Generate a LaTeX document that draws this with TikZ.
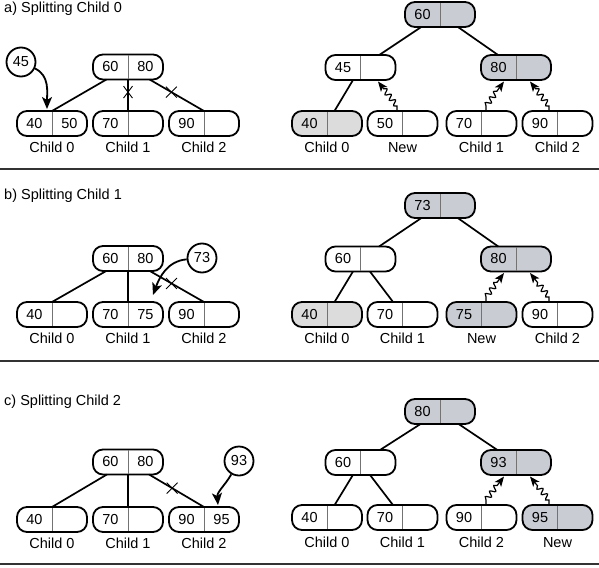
\documentclass[tikz,border=0pt]{standalone}
\usepackage{fontspec}
\setmainfont{Liberation Sans}
\usetikzlibrary{shapes,arrows.meta,calc,decorations.pathmorphing}
\definecolor{rootgrey}{HTML}{C9CCD3}
\definecolor{leafgrey}{HTML}{DCDCDC}
\newcommand{\keyfont}{\fontsize{14.5}{16}\selectfont}
\tikzstyle{keybox} = [rectangle, draw, line width=1.8pt, rounded corners=10pt,
    minimum width=70pt, minimum height=25pt, inner sep=0pt, outer sep=0pt]
\tikzstyle{divider} = [draw=black!55, line width=0.9pt]
\tikzstyle{keytext} = [font=\keyfont, inner sep=0pt]
\tikzstyle{newkey} = [circle, draw, line width=1.8pt, minimum size=29pt, inner sep=0pt, font=\keyfont]
\tikzstyle{caption} = [font=\keyfont]
\tikzstyle{title} = [font=\keyfont, anchor=base west, inner sep=0pt]
\tikzstyle{line} = [draw, line width=1.7pt]
\tikzstyle{thinline} = [draw, line width=1.1pt]
\tikzstyle{insert} = [draw, line width=1.8pt, -{Stealth[length=12pt, width=10pt, inset=3pt]}]
\tikzstyle{promote} = [draw, line width=1.2pt, -{Stealth[length=10pt, width=8pt, inset=2.5pt]}]
\tikzstyle{wiggle} = [decoration={snake, amplitude=2.6pt, segment length=7pt, post length=9pt}]
\tikzstyle{xmark} = [draw, cross out, line width=0.9pt, inner sep=0pt, minimum width=8pt, minimum height=11pt]
\tikzstyle{separator} = [draw=black!80, line width=1.6pt]

% key node: name, position, fill, left key, right key
\newcommand{\keynode}[5]{%
  \node [keybox, fill=#3] (#1) at (#2) {};
  \draw [divider, shorten <=0.9pt, shorten >=0.9pt] (#1.north) -- (#1.south);
  \node [keytext] (#1l) at ($(#1.center)+(-17.5,0)$) {#4};
  \node [keytext] (#1r) at ($(#1.center)+(17.5,0)$) {#5};
}

\begin{document}
\begin{tikzpicture}[x=1pt, y=1pt]
\useasboundingbox (0,0) rectangle (599,-567);

%% a) Splitting Child 0
\node [title] (titleA) at (4,-12.5) {a) Splitting Child 0};
\keynode{rootA}{128,-67}{white}{60}{80}
\keynode{childA0}{52,-123.5}{white}{40}{50}
\keynode{childA1}{128,-123.5}{white}{70}{}
\keynode{childA2}{204,-123.5}{white}{90}{}
\node [caption, below of=childA0, node distance=24pt] (capA0) {Child 0};
\node [caption, below of=childA1, node distance=24pt] (capA1) {Child 1};
\node [caption, below of=childA2, node distance=24pt] (capA2) {Child 2};
\node [newkey] (newKeyA) at (21,-62) {45};

\path [line] (rootA) -- (childA0.north);
\path [thinline] (rootA.south) -- node [xmark, pos=0.4] {} (childA1.north);
\path [line] (rootA) -- node [xmark, pos=0.4, minimum width=10pt, minimum height=10pt] {} (childA2.north);
\draw [insert] (newKeyA) to[out=-25, in=90] ($(childA0.north)+(-5,2)$);

\keynode{rootRA}{440,-14.5}{rootgrey}{60}{}
\keynode{midRA45}{360.5,-67.5}{white}{45}{}
\keynode{midRA80}{516,-67.5}{rootgrey}{80}{}
\keynode{leafRA40}{327,-123.5}{leafgrey}{40}{}
\keynode{leafRA50}{402.5,-123.5}{white}{50}{}
\keynode{leafRA70}{481.5,-123.5}{white}{70}{}
\keynode{leafRA90}{557.5,-123.5}{white}{90}{}
\node [caption, below of=leafRA40, node distance=24pt] (capRA40) {Child 0};
\node [caption, below of=leafRA50, node distance=24pt] (capRA50) {New};
\node [caption, below of=leafRA70, node distance=24pt] (capRA70) {Child 1};
\node [caption, below of=leafRA90, node distance=24pt] (capRA90) {Child 2};

\path [line] (rootRA) -- (midRA45);
\path [line] (rootRA) -- (midRA80);
\path [line] (midRA45) -- (leafRA40);
\draw [promote] ($(leafRA50.north)+(-5.5,0)$) -- ++(0,5) decorate[wiggle] {-- ($(midRA45.south)+(17.5,-1.5)$)};
\draw [promote] ($(leafRA70.north)+(4.5,0)$) -- ++(0,5) decorate[wiggle] {-- ($(midRA80.south)+(-12,-1.5)$)};
\draw [promote] ($(leafRA90.north)+(-8.5,0)$) -- ++(0,5) decorate[wiggle] {-- ($(midRA80.south)+(14,-1.5)$)};

\draw [separator] (0,-169) -- (599,-169);

%% b) Splitting Child 1
\node [title] (titleB) at (4,-199) {b) Splitting Child 1};
\keynode{rootB}{128,-258.5}{white}{60}{80}
\keynode{childB0}{52,-314.5}{white}{40}{}
\keynode{childB1}{128,-314.5}{white}{70}{75}
\keynode{childB2}{204,-314.5}{white}{90}{}
\node [caption, below of=childB0, node distance=24pt] (capB0) {Child 0};
\node [caption, below of=childB1, node distance=24pt] (capB1) {Child 1};
\node [caption, below of=childB2, node distance=24pt] (capB2) {Child 2};
\node [newkey] (newKeyB) at (202,-258) {73};

\path [line] (rootB) -- (childB0.north);
\path [thinline] (rootB.south) -- (childB1.north);
\path [line] (rootB) -- node [xmark, pos=0.4, minimum width=10pt, minimum height=10pt] {} (childB2.north);
\draw [insert] (newKeyB) to[out=185, in=70] ($(childB1.north)+(25,7)$);

\keynode{rootRB}{440,-205.5}{rootgrey}{73}{}
\keynode{midRB60}{360.5,-259}{white}{60}{}
\keynode{midRB80}{516,-259}{rootgrey}{80}{}
\keynode{leafRB40}{327,-314.5}{leafgrey}{40}{}
\keynode{leafRB70}{402.5,-314.5}{white}{70}{}
\keynode{leafRB75}{481.5,-314.5}{rootgrey}{75}{}
\keynode{leafRB90}{557.5,-314.5}{white}{90}{}
\node [caption, below of=leafRB40, node distance=24pt] (capRB40) {Child 0};
\node [caption, below of=leafRB70, node distance=24pt] (capRB70) {Child 1};
\node [caption, below of=leafRB75, node distance=24pt] (capRB75) {New};
\node [caption, below of=leafRB90, node distance=24pt] (capRB90) {Child 2};

\path [line] (rootRB) -- (midRB60);
\path [line] (rootRB) -- (midRB80);
\path [line] (midRB60) -- (leafRB40);
\path [line] (midRB60) -- (leafRB70);
\draw [promote] ($(leafRB75.north)+(4.5,0)$) -- ++(0,5) decorate[wiggle] {-- ($(midRB80.south)+(-12,-1.5)$)};
\draw [promote] ($(leafRB90.north)+(-8.5,0)$) -- ++(0,5) decorate[wiggle] {-- ($(midRB80.south)+(14,-1.5)$)};

\draw [separator] (0,-361) -- (599,-361);

%% c) Splitting Child 2
\node [title] (titleC) at (4,-405) {c) Splitting Child 2};
\keynode{rootC}{128,-462}{white}{60}{80}
\keynode{childC0}{52,-519.5}{white}{40}{}
\keynode{childC1}{128,-519.5}{white}{70}{}
\keynode{childC2}{204,-519.5}{white}{90}{95}
\node [caption, below of=childC0, node distance=24pt] (capC0) {Child 0};
\node [caption, below of=childC1, node distance=24pt] (capC1) {Child 1};
\node [caption, below of=childC2, node distance=24pt] (capC2) {Child 2};
\node [newkey] (newKeyC) at (239,-461) {93};

\path [line] (rootC) -- (childC0.north);
\path [thinline] (rootC.south) -- (childC1.north);
\path [line] (rootC) -- node [xmark, pos=0.42, minimum width=10pt, minimum height=10pt] {} (childC2.north);
\draw [insert] (newKeyC) to[out=240, in=95] ($(childC2.north)+(14,2)$);

\keynode{rootRC}{440,-411.5}{rootgrey}{80}{}
\keynode{midRC60}{360.5,-462.5}{white}{60}{}
\keynode{midRC93}{516,-462.5}{rootgrey}{93}{}
\keynode{leafRC40}{327,-517.5}{white}{40}{}
\keynode{leafRC70}{402.5,-517.5}{white}{70}{}
\keynode{leafRC90}{481.5,-517.5}{white}{90}{}
\keynode{leafRC95}{557.5,-517.5}{rootgrey}{95}{}
\node [caption, below of=leafRC40, node distance=25pt] (capRC40) {Child 0};
\node [caption, below of=leafRC70, node distance=25pt] (capRC70) {Child 1};
\node [caption, below of=leafRC90, node distance=25pt] (capRC90) {Child 2};
\node [caption, below of=leafRC95, node distance=25pt] (capRC95) {New};

\path [line] (rootRC) -- (midRC60);
\path [line] (rootRC) -- (midRC93);
\path [line] (midRC60) -- (leafRC40);
\path [line] (midRC60) -- (leafRC70);
\draw [promote] ($(leafRC90.north)+(4.5,0)$) -- ++(0,5) decorate[wiggle] {-- ($(midRC93.south)+(-12,-1.5)$)};
\draw [promote] ($(leafRC95.north)+(-8.5,0)$) -- ++(0,5) decorate[wiggle] {-- ($(midRC93.south)+(14,-1.5)$)};

\draw [separator] (0,-564) -- (599,-564);
\end{tikzpicture}
\end{document}
